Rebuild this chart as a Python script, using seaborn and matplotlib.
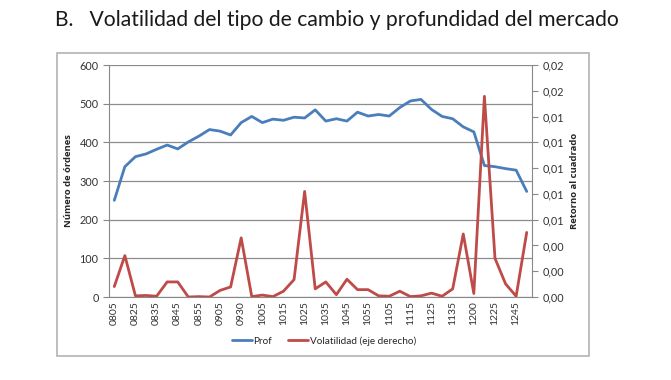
import numpy as np
import pandas as pd
import matplotlib
matplotlib.use('Agg')
import matplotlib.pyplot as plt
from matplotlib.patches import Rectangle
from matplotlib.ticker import FixedLocator, FuncFormatter
import seaborn as sns

# Time-of-day categories (only every other one is labelled on the axis)
horas = ['0805', '0815', '0825', '0830', '0835', '0840', '0845', '0850', '0855', '0900',
         '0905', '0915', '0930', '0945', '1005', '1010', '1015', '1020', '1025', '1030',
         '1035', '1040', '1045', '1050', '1055', '1100', '1105', '1110', '1115', '1120',
         '1125', '1130', '1135', '1145', '1200', '1215', '1225', '1235', '1245', '1255']

# Profundidad (número de órdenes)
prof = [250, 337, 363, 370, 382, 393, 383, 401, 416, 433,
        429, 419, 451, 467, 451, 460, 457, 465, 463, 484,
        455, 461, 455, 478, 468, 472, 468, 490, 507, 511,
        485, 467, 461, 440, 427, 340, 337, 332, 328, 273]

# Volatilidad (retorno al cuadrado, eje derecho)
vol = [0.00081, 0.00321, 0.00009, 0.00012, 0.00006, 0.00117, 0.00117, 0.0, 0.00003, 0.0,
       0.00051, 0.00078, 0.00459, 0.00003, 0.00015, 0.00003, 0.00045, 0.00135, 0.00819, 0.00063,
       0.00117, 0.00018, 0.00138, 0.00057, 0.00057, 0.00009, 0.00006, 0.00045, 0.00003, 0.00009,
       0.0003, 0.00006, 0.00063, 0.00489, 0.00027, 0.01557, 0.003, 0.00102, 0.00006, 0.00501]

AZUL = '#4A7EBB'
ROJO = '#BE4B48'

df = pd.DataFrame({'pos': np.arange(len(horas)), 'hora': horas, 'prof': prof, 'vol': vol})

sns.set_theme(style='white')
plt.rcParams['font.family'] = ['Lato', 'DejaVu Sans']

fig = plt.figure(figsize=(6.71, 3.80), dpi=100)

# chart frame
fig.patches.append(Rectangle((0.0845, 0.064), 0.793, 0.797, transform=fig.transFigure,
                             fill=False, edgecolor='#b3b3b3', linewidth=1.2))

fig.text(55 / 671, 1 - 20 / 380, 'B.   Volatilidad del tipo de cambio y profundidad del mercado',
         ha='left', va='center', fontsize=15.2, color='#1a1a1a')

ax = fig.add_axes([109 / 671, 1 - 297 / 380, 423 / 671, 232 / 380])
ax2 = ax.twinx()

sns.lineplot(data=df, x='pos', y='prof', ax=ax, color=AZUL, linewidth=2.0, label='Prof', legend=False)
sns.lineplot(data=df, x='pos', y='vol', ax=ax2, color=ROJO, linewidth=2.0,
             label='Volatilidad (eje derecho)', legend=False)

ax.set_xlim(-0.5, len(horas) - 0.5)
ax.set_ylim(0, 600)
ax2.set_ylim(0, 0.018)
ax.set_yticks(np.arange(0, 601, 100))
ax2.set_yticks(np.arange(0, 0.0181, 0.002))
ax2.yaxis.set_major_formatter(FuncFormatter(lambda v, p: f'{v:.2f}'.replace('.', ',')))

ax.set_xticks(df['pos'][::2])
ax.set_xticklabels(df['hora'][::2], rotation=90, fontsize=7.5, color='#333333')
ax.xaxis.set_minor_locator(FixedLocator(np.arange(-0.5, len(horas), 1)))
ax.tick_params(axis='x', which='major', length=0, pad=3)
ax.tick_params(axis='x', which='minor', length=3, color='#888888', width=0.8, direction='out')
ax.tick_params(axis='y', labelsize=7.8, length=4, color='#888888', width=0.8, labelcolor='#333333')
ax2.tick_params(axis='y', labelsize=7.8, length=4, color='#888888', width=0.8, labelcolor='#333333')

ax.grid(axis='y', color='#8c8c8c', linewidth=0.9)
ax.grid(axis='x', visible=False)
ax.set_axisbelow(True)

for a in (ax, ax2):
    for s in ('top', 'left', 'right', 'bottom'):
        a.spines[s].set_visible(False)
ax.spines['left'].set_visible(True)
ax2.spines['right'].set_visible(True)
ax.spines['bottom'].set_visible(True)
for sp in (ax.spines['left'], ax2.spines['right'], ax.spines['bottom']):
    sp.set_color('#888888')
    sp.set_linewidth(0.8)

ax.set_xlabel('')
ax.set_ylabel('Número de órdenes', fontsize=6.8, fontweight='bold', labelpad=5,
              family=['Open Sans', 'DejaVu Sans'])
ax2.set_ylabel('Retorno al cuadrado', fontsize=6.8, fontweight='bold', labelpad=4,
               family=['Open Sans', 'DejaVu Sans'])

h1, l1 = ax.get_legend_handles_labels()
h2, l2 = ax2.get_legend_handles_labels()
fig.legend(h1 + h2, l1 + l2, loc='center', bbox_to_anchor=(324 / 671, 1 - 341 / 380),
           ncol=2, frameon=False, fontsize=7.2, handlelength=2.0, columnspacing=1.6, handletextpad=0.2)

fig.savefig('out.png', dpi=100)
